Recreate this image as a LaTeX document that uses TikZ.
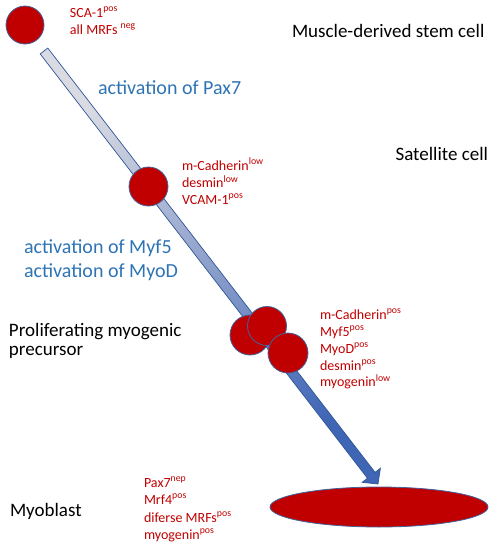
\documentclass[tikz,border=0pt]{standalone}
\usepackage{fontspec}
\setmainfont{Carlito}
\usetikzlibrary{calc,shapes.geometric}
\definecolor{redc}{HTML}{C00000}
\definecolor{bluetxt}{HTML}{2E74B5}
\definecolor{outl}{HTML}{41639B}
\definecolor{arrowout}{HTML}{2F5597}
\definecolor{shtop}{HTML}{D9DAE2}
\definecolor{shmid}{HTML}{B0C3EA}
\definecolor{shbot}{HTML}{3F65B5}
\tikzset{
  blk/.style={font=\fontsize{19}{23}\selectfont, text=black, inner sep=0pt, outer sep=0pt, anchor=base west},
  blu/.style={font=\fontsize{20}{24}\selectfont, text=bluetxt, inner sep=0pt, outer sep=0pt, anchor=base west},
  rd/.style={font=\fontsize{14}{17}\selectfont, text=redc, inner sep=0pt, outer sep=0pt, anchor=base west},
  cell/.style={circle, fill=redc, draw=outl, line width=0.8pt, minimum size=38pt, inner sep=0pt},
  blockarrow/.style={draw=arrowout, line width=0.7pt, line join=miter, top color=shtop, middle color=shmid, bottom color=shbot, shading angle=38}
}
\begin{document}
\begin{tikzpicture}[x=1pt,y=-1pt]
\useasboundingbox (0,0) rectangle (493,550);
% arrow geometry
\coordinate (S) at (44,51);
\coordinate (T) at (378,484);
\coordinate (B) at ($(T)!11pt!(S)$);
\path[blockarrow]
  ($(S)!4.8pt!90:(T)$) -- ($(B)!4.8pt!-90:(S)$) -- ($(B)!11.5pt!-90:(S)$) -- (T)
  -- ($(B)!11.5pt!90:(S)$) -- ($(B)!4.8pt!90:(S)$) -- ($(S)!4.8pt!-90:(T)$) -- cycle;
% cells
\node[cell] (stem) at (25,25) {};
\node[cell, minimum size=39pt] (sat) at (148.5,186.5) {};
\node[cell, minimum size=40pt] (pro1) at (250,335) {};
\node[cell, minimum size=39pt] (pro2) at (267,326) {};
\node[cell, minimum size=40pt] (pro3) at (288,353) {};
\node[ellipse, fill=redc, draw=outl, line width=0.8pt, minimum width=218pt, minimum height=40pt, inner sep=0pt] (myo) at (379,507) {};
% stage labels
\node[blk] (l1) at (292,37) {Muscle-derived stem cell};
\node[blk, anchor=base east] (l2) at (488,160) {Satellite cell};
\node[blk] (l3a) at (9,336) {Proliferating myogenic};
\node[blk] (l3b) at (9,355) {precursor};
\node[blk] (l4) at (10,516) {Myoblast};
% activations
\node[blu] (a1) at (98,94) {activation of Pax7};
\node[blu] (a2) at (24,253) {activation of Myf5};
\node[blu] (a3) at (24,277) {activation of MyoD};
% markers
\node[rd] (m1) at (70,17) {SCA-1\textsuperscript{pos}};
\node[rd] (m2) at (70,34) {all MRFs \textsuperscript{neg}};
\node[rd] (s1) at (182,170) {m-Cadherin\textsuperscript{low}};
\node[rd] (s2) at (182,187.5) {desmin\textsuperscript{low}};
\node[rd] (s3) at (182,204) {VCAM-1\textsuperscript{pos}};
\node[rd] (p1) at (320,319) {m-Cadherin\textsuperscript{pos}};
\node[rd] (p2) at (320,336) {Myf5\textsuperscript{pos}};
\node[rd] (p3) at (320,353) {MyoD\textsuperscript{pos}};
\node[rd] (p4) at (320,370) {desmin\textsuperscript{pos}};
\node[rd] (p5) at (320,386.5) {myogenin\textsuperscript{low}};
\node[rd] (b1) at (144,487) {Pax7\textsuperscript{nep}};
\node[rd] (b2) at (144,504) {Mrf4\textsuperscript{pos}};
\node[rd] (b3) at (144,522) {diferse MRFs\textsuperscript{pos}};
\node[rd] (b4) at (144,539) {myogenin\textsuperscript{pos}};
\end{tikzpicture}
\end{document}
